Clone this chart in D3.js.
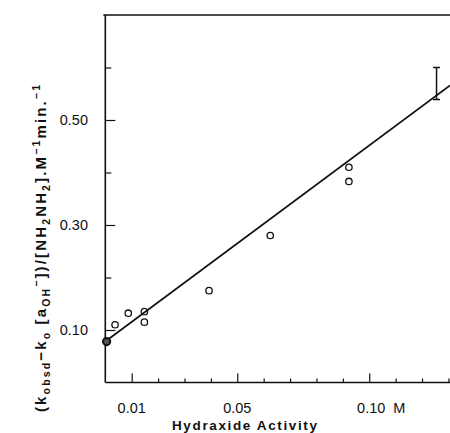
<!DOCTYPE html>
<html><head><meta charset="utf-8">
<script src="https://cdn.jsdelivr.net/npm/d3@7"></script>
<style>
html,body{margin:0;padding:0;background:#fff;}
svg{display:block;font-family:"Liberation Sans",Arial,sans-serif;}
</style></head>
<body>
<script>
// Data
const pointX = [0.0037, 0.0087, 0.0148, 0.0148, 0.0393, 0.0625, 0.0923, 0.0923];
const pointY = [0.110, 0.132, 0.135, 0.115, 0.175, 0.280, 0.410, 0.383];
const originPointX = [0.0005];
const originPointY = [0.078];
const fitLineX = [0.0, 0.1306];
const fitLineY = [0.078, 0.566];
const errorBarX = [0.1255];
const errorBarLow = [0.539];
const errorBarHigh = [0.600];
const xTickValues = [0.01,0.02,0.03,0.04,0.05,0.06,0.07,0.08,0.09,0.10,0.11,0.12,0.13];
const xTickLabels = {"0.01":"0.01","0.05":"0.05","0.1":"0.10"};
const yTickValues = [0.1,0.2,0.3,0.4,0.5,0.6];
const yTickLabels = {"0.1":"0.10","0.3":"0.30","0.5":"0.50"};

const W = 450, H = 433;
const svg = d3.select("body").append("svg").attr("width", W).attr("height", H);

const x = d3.scaleLinear().domain([0, 0.1306]).range([105.3, 450]);
const y = d3.scaleLinear().domain([0, 0.70]).range([382.5, 15]);

const ink = "#111";

// frame: left axis, top line
svg.append("line").attr("x1", x(0)).attr("x2", x(0)).attr("y1", y(0.70)).attr("y2", y(0))
  .attr("stroke", ink).attr("stroke-width", 1.6);
svg.append("line").attr("x1", x(0) - 2).attr("x2", W).attr("y1", y(0.70)).attr("y2", y(0.70))
  .attr("stroke", ink).attr("stroke-width", 1.6);

// x axis with inward ticks
const xAxis = d3.axisTop(x).tickValues(xTickValues).tickSizeOuter(0)
  .tickSize(4).tickFormat("");
const gx = svg.append("g").attr("transform", `translate(0,${y(0)})`).call(xAxis);
gx.select(".domain").attr("stroke", ink).attr("stroke-width", 1.6).attr("d", `M${x(0)},0H${W}`);
gx.selectAll(".tick line").attr("stroke", ink).attr("stroke-width", 1.2)
  .attr("y2", d => xTickLabels[String(+d.toFixed(2))] ? -9 : -4);

// x tick labels
const xl = svg.append("g").attr("font-size", 14.5).attr("fill", ink);
Object.keys(xTickLabels).forEach(k => {
  xl.append("text").attr("x", x(+k) + (k === "0.1" ? 2 : 0)).attr("y", 413)
    .attr("text-anchor", "middle").text(xTickLabels[k]);
});
xl.append("text").attr("x", x(0.10) + 30).attr("y", 413).attr("text-anchor", "middle").text("M");

// x axis title
svg.append("text").attr("x", 172).attr("y", 430)
  .attr("font-size", 13.5).attr("font-weight", "bold").attr("fill", ink)
  .attr("textLength", 145).attr("lengthAdjust", "spacing")
  .text("Hydraxide Activity");

// y axis ticks (inward)
const yAxis = d3.axisRight(y).tickValues(yTickValues).tickSize(6).tickFormat("");
const gy = svg.append("g").attr("transform", `translate(${x(0)},0)`).call(yAxis);
gy.select(".domain").remove();
gy.selectAll(".tick line").attr("stroke", ink).attr("stroke-width", 1.2)
  .attr("x2", d => yTickLabels[String(+d.toFixed(1))] ? 10 : 6);

const yl = svg.append("g").attr("font-size", 14.5).attr("fill", ink);
Object.keys(yTickLabels).forEach(k => {
  yl.append("text").attr("x", 88).attr("y", y(+k) + 5).attr("text-anchor", "end").text(yTickLabels[k]);
});

// y axis title (rotated)
const yt = svg.append("text")
  .attr("transform", `translate(46,412) rotate(-90)`)
  .attr("font-size", 15).attr("font-weight", "bold")
  .attr("fill", ink).attr("textLength", 327).attr("lengthAdjust", "spacing");
const parts = [
  ["(k", 0], ["obsd", 1], ["\u2212k", 0], ["o", 1], ["  [a", 0], ["OH", 1], ["\u2212", 2],
  ["])/[NH", 0], ["2", 1], ["NH", 0], ["2", 1], ["].M", 0], ["\u22121", 2], ["min.", 0], ["\u22121", 2]
];
let prev = 0;
parts.forEach(([t, kind]) => {
  const off = kind === 1 ? 4 : kind === 2 ? -6 : 0;
  yt.append("tspan").attr("dy", off - prev)
    .attr("font-size", kind ? 10.5 : 15).text(t);
  prev = off;
});

// fitted line
const lineData = fitLineX.map((v, i) => [v, fitLineY[i]]);
svg.append("path").datum(lineData)
  .attr("d", d3.line().x(d => x(d[0])).y(d => y(d[1])))
  .attr("fill", "none").attr("stroke", ink).attr("stroke-width", 1.7);

// error bar
errorBarX.forEach((v, i) => {
  const g = svg.append("g").attr("stroke", ink).attr("stroke-width", 1.5);
  g.append("line").attr("x1", x(v)).attr("x2", x(v)).attr("y1", y(errorBarLow[i])).attr("y2", y(errorBarHigh[i]));
  [errorBarLow[i], errorBarHigh[i]].forEach(e =>
    g.append("line").attr("x1", x(v) - 3.5).attr("x2", x(v) + 3.5).attr("y1", y(e)).attr("y2", y(e)));
});

// open circles
svg.append("g").selectAll("circle").data(pointX.map((v, i) => [v, pointY[i]])).join("circle")
  .attr("cx", d => x(d[0])).attr("cy", d => y(d[1])).attr("r", 3.2)
  .attr("fill", "none").attr("stroke", ink).attr("stroke-width", 1.3);

// bold point at origin
svg.append("g").selectAll("circle").data(originPointX.map((v, i) => [v, originPointY[i]])).join("circle")
  .attr("cx", d => x(d[0])).attr("cy", d => y(d[1])).attr("r", 3.6)
  .attr("fill", "#555").attr("stroke", ink).attr("stroke-width", 2);
</script>
</body></html>
